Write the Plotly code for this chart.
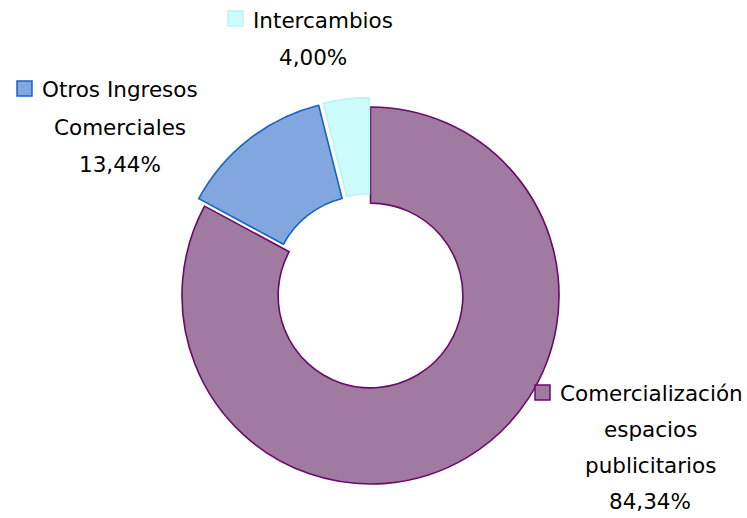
import plotly.graph_objects as go

# Revenue breakdown
categories = ["Comercialización espacios publicitarios", "Otros Ingresos Comerciales", "Intercambios"]
values = [84.34, 13.44, 4.00]
label_lines = [
    ["Comercialización", "espacios", "publicitarios"],
    ["Otros Ingresos", "Comerciales"],
    ["Intercambios"],
]
fill_colors = ["#A07AA0", "#82A6DE", "#CCFCFC"]
edge_colors = ["#6A0A6A", "#1565C8", "#BFF2F2"]
pulls = [0, 0.05, 0.05]

W, H = 747, 518
FONT = "DejaVu Sans"
FONT_SIZE = 21.5

# donut centre and outer radius in pixels
CX, CY, R = 370.5, 295.5, 188.5
half = R * (1 + max(pulls))

fig = go.Figure(go.Pie(
    labels=categories,
    values=values,
    hole=0.49,
    sort=False,
    direction="clockwise",
    rotation=0,
    pull=pulls,
    textinfo="none",
    marker=dict(colors=fill_colors, line=dict(color=edge_colors, width=1.6)),
    domain=dict(x=[(CX - half) / W, (CX + half) / W],
                y=[(H - CY - half) / H, (H - CY + half) / H]),
    showlegend=False,
))

def px(x):
    return x / W

def py(y):
    return 1 - y / H

annotations = []
shapes = []

# label blocks: (square left x, square top y, first-line left x, first-line y, centre x, line step)
layouts = [
    (535, 385, 558, 393, 650, 36),
    (17, 81, 40, 90, 120, 37),
    (228, 11, 251, 20, 313, 37),
]

for i, (sx, sy, tx, ty, cx, step) in enumerate(layouts):
    shapes.append(dict(
        type="rect", xref="paper", yref="paper",
        x0=px(sx), x1=px(sx + 15), y0=py(sy + 15), y1=py(sy),
        fillcolor=fill_colors[i], line=dict(color=edge_colors[i], width=1.5),
    ))
    lines = label_lines[i]
    annotations.append(dict(
        x=px(tx), y=py(ty), xref="paper", yref="paper",
        text=lines[0], showarrow=False, xanchor="left", yanchor="middle",
        font=dict(family=FONT, size=FONT_SIZE, color="#000000"),
    ))
    y = ty
    for extra in lines[1:] + [f"{values[i]:.2f}%".replace(".", ",")]:
        y += step
        annotations.append(dict(
            x=px(cx), y=py(y), xref="paper", yref="paper",
            text=extra, showarrow=False, xanchor="center", yanchor="middle",
            font=dict(family=FONT, size=FONT_SIZE, color="#000000"),
        ))

fig.update_layout(
    width=W, height=H,
    margin=dict(l=0, r=0, t=0, b=0),
    paper_bgcolor="white",
    plot_bgcolor="white",
    annotations=annotations,
    shapes=shapes,
)

fig.write_html("out.html")
